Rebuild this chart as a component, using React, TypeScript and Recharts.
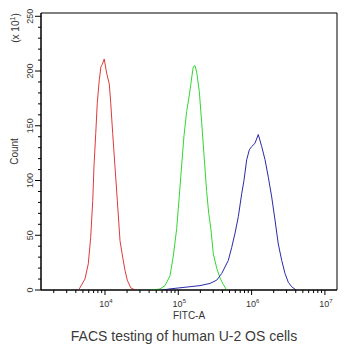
import React from 'react';
import { LineChart, Line, XAxis, YAxis, ReferenceArea, Label } from 'recharts';

// FITC-A intensity (x) and event counts (y, x10^1)
const redX = [4460, 5330, 5920, 6380, 6810, 7080, 7480, 7850, 8360, 8810, 9180, 9770, 10540, 11460, 11970, 12740, 13680, 14720, 16030, 17420, 18750, 20140, 22440, 25650];
const redCount = [1, 10, 24, 48, 82, 113, 143, 171, 192, 204, 206, 211, 198, 188, 171, 143, 113, 82, 45, 30, 18, 9, 2, 0];

const greenX = [37070, 45600, 56230, 65920, 77090, 85510, 95060, 103280, 111170, 119670, 130020, 141250, 147570, 153820, 160330, 169040, 178240, 193640, 208450, 224390, 243780, 260020, 279250, 300610, 334200, 370680, 411150, 457090];
const greenCount = [0, 0, 1, 4, 13, 31, 56, 86, 114, 141, 163, 178, 187, 196, 204, 205, 199, 181, 153, 123, 90, 70, 55, 33, 20, 11, 5, 0];

const blueX = [61800, 77090, 105440, 144540, 197700, 270400, 334200, 390840, 433510, 480840, 535800, 594290, 659170, 732830, 787050, 857040, 931110, 1002300, 1111700, 1233100, 1374000, 1524100, 1690400, 1879300, 2084500, 2312100, 2576300, 2857600, 3169600, 3523700, 4036500];
const blueCount = [0, 1, 2, 3, 4, 6, 9, 15, 21, 27, 39, 52, 67, 88, 100, 119, 128, 131, 134, 142, 131, 119, 103, 85, 64, 42, 27, 15, 7, 3, 0];

const decades = [1e3, 1e4, 1e5, 1e6];
const minorSteps = [1, 2, 3, 4, 5, 6, 7, 8, 9];
const yMajor = [0, 50, 100, 150, 200, 250];
const yMinorStep = 10;

const X_MIN = 1340;
const X_MAX = 14620000;
const Y_MAX = 253;

const xTicks = decades
  .flatMap((d) => minorSteps.map((m) => d * m))
  .concat([1e7])
  .filter((v) => v >= X_MIN && v <= X_MAX);
const yTicks = Array.from({ length: yMajor[yMajor.length - 1] / yMinorStep + 1 }, (_, i) => i * yMinorStep);

const toRows = (xs: number[], ys: number[]) => xs.map((x, i) => ({ x, count: ys[i] }));
const redData = toRows(redX, redCount);
const greenData = toRows(greenX, greenCount);
const blueData = toRows(blueX, blueCount);

const font = '"Liberation Sans", Arial, sans-serif';

function XTick(props: any) {
  const { x, y, payload } = props;
  const e = Math.log10(payload.value);
  const major = Math.abs(e - Math.round(e)) < 1e-6;
  return (
    <g>
      <line x1={x} x2={x} y1={y} y2={y + (major ? 5 : 3)} stroke="#000" />
      {major && (
        <text x={x + 1} y={y + 17} textAnchor="middle" fontSize={9} fill="#333" fontFamily={font}>
          10
          <tspan dy={-4} fontSize={6}>
            {Math.round(e)}
          </tspan>
        </text>
      )}
    </g>
  );
}

function YTick(props: any) {
  const { x, y, payload } = props;
  const major = yMajor.includes(payload.value);
  return (
    <g>
      <line x1={x - (major ? 6 : 3)} x2={x} y1={y} y2={y} stroke="#000" />
      {major && (
        <text
          transform={`translate(${x - 8},${y}) rotate(-90)`}
          textAnchor="middle"
          fontSize={9}
          fill="#333"
          fontFamily={font}
        >
          {payload.value}
        </text>
      )}
    </g>
  );
}

function YLabels(props: any) {
  const vb = props.viewBox || { x: 0, y: 13, height: 277 };
  return (
    <g fontFamily={font} fill="#333">
      <text transform={`translate(${vb.x + 18},${vb.y + vb.height / 2}) rotate(-90)`} textAnchor="middle" fontSize={10}>
        Count
      </text>
      <text transform={`translate(${vb.x + 19},${vb.y + 15}) rotate(-90)`} textAnchor="middle" fontSize={10}>
        (x 10
        <tspan dy={-4} fontSize={7}>
          1
        </tspan>
        <tspan dy={4}>)</tspan>
      </text>
    </g>
  );
}

export default function App() {
  return (
    <div style={{ position: 'absolute', left: 0, top: 0, width: 350, height: 350, background: '#fff', fontFamily: font }}>
      <LineChart width={350} height={350} margin={{ top: 13, right: 13, bottom: 0, left: 0 }}>
        <XAxis
          type="number"
          dataKey="x"
          scale="log"
          domain={[X_MIN, X_MAX]}
          ticks={xTicks}
          interval={0}
          tick={<XTick />}
          tickLine={false}
          tickSize={0}
          tickMargin={0}
          height={60}
          stroke="#000"
          allowDataOverflow
        >
          <Label value="FITC-A" position="insideBottom" offset={31} fill="#333" fontSize={10} />
        </XAxis>
        <YAxis
          type="number"
          domain={[0, Y_MAX]}
          ticks={yTicks}
          interval={0}
          tick={<YTick />}
          tickLine={false}
          tickSize={0}
          tickMargin={0}
          width={41}
          stroke="#000"
          allowDataOverflow
        >
          <Label content={<YLabels />} />
        </YAxis>
        <ReferenceArea x1={X_MIN} x2={X_MAX} y1={0} y2={Y_MAX} fill="none" stroke="#000" ifOverflow="visible" />
        <Line data={redData} dataKey="count" stroke="#dd3a3a" strokeWidth={1} dot={false} isAnimationActive={false} />
        <Line data={greenData} dataKey="count" stroke="#33d633" strokeWidth={1} dot={false} isAnimationActive={false} />
        <Line data={blueData} dataKey="count" stroke="#2a2aa6" strokeWidth={1} dot={false} isAnimationActive={false} />
      </LineChart>
      <div
        style={{
          position: 'absolute',
          left: 184,
          top: 329,
          transform: 'translateX(-50%)',
          whiteSpace: 'nowrap',
          fontSize: 14,
          lineHeight: '14px',
          color: '#3a3a3a',
        }}
      >
        FACS testing of human U-2 OS cells
      </div>
    </div>
  );
}
